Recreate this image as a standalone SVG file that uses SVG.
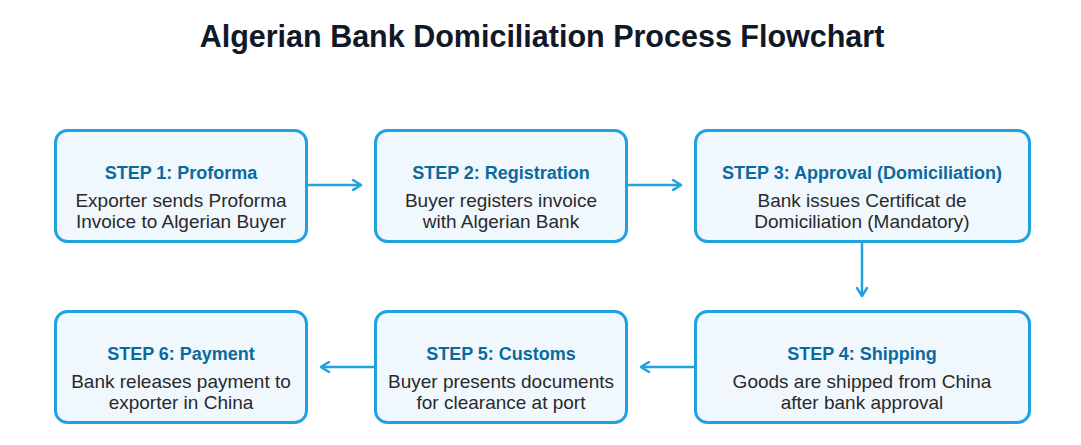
<svg xmlns="http://www.w3.org/2000/svg" width="1081" height="445" viewBox="0 0 1081 445">
<defs>
<style>
.box{fill:#f0f8fe;stroke:#1fa2e0;stroke-width:3}
.t{font-family:"Liberation Sans",Arial,sans-serif;font-weight:bold;font-size:18px;fill:#0a6aa0;text-anchor:middle}
.b{font-family:"Liberation Sans",Arial,sans-serif;font-size:19px;fill:#2a2a2a;text-anchor:middle}
.c{fill:none;stroke:#1fa2e0;stroke-width:2.5}
</style>
<marker id="ah" viewBox="0 0 12 12" refX="10" refY="6" markerWidth="12" markerHeight="12" markerUnits="userSpaceOnUse" orient="auto">
<path d="M2,1 L10,6 L2,11" fill="none" stroke="#1fa2e0" stroke-width="2.5" stroke-linecap="round" stroke-linejoin="round"/>
</marker>
</defs>
<rect width="1081" height="445" fill="#ffffff"/>
<text x="542" y="47" font-family="Liberation Sans,Arial,sans-serif" font-weight="bold" font-size="30.5" fill="#111827" text-anchor="middle">Algerian Bank Domiciliation Process Flowchart</text>
<g id="connectors">
<line class="c" x1="307" y1="185" x2="361" y2="185" marker-end="url(#ah)"/>
<line class="c" x1="627" y1="185" x2="681" y2="185" marker-end="url(#ah)"/>
<line class="c" x1="862" y1="242" x2="862" y2="296" marker-end="url(#ah)"/>
<line class="c" x1="694" y1="367" x2="641" y2="367" marker-end="url(#ah)"/>
<line class="c" x1="374" y1="367" x2="321" y2="367" marker-end="url(#ah)"/>
</g>
<g id="step1">
<rect class="box" x="55.5" y="130.5" width="251" height="111" rx="12"/>
<text class="t" x="181" y="179">STEP 1: Proforma</text>
<text class="b" x="181" y="207">Exporter sends Proforma</text>
<text class="b" x="181" y="228">Invoice to Algerian Buyer</text>
</g>
<g id="step2">
<rect class="box" x="375.5" y="130.5" width="251" height="111" rx="12"/>
<text class="t" x="501" y="179">STEP 2: Registration</text>
<text class="b" x="501" y="207">Buyer registers invoice</text>
<text class="b" x="501" y="228">with Algerian Bank</text>
</g>
<g id="step3">
<rect class="box" x="695.5" y="130.5" width="334" height="111" rx="12"/>
<text class="t" x="862" y="179">STEP 3: Approval (Domiciliation)</text>
<text class="b" x="862" y="207">Bank issues Certificat de</text>
<text class="b" x="862" y="228">Domiciliation (Mandatory)</text>
</g>
<g id="step4">
<rect class="box" x="695.5" y="311.5" width="334" height="111" rx="12"/>
<text class="t" x="862" y="360">STEP 4: Shipping</text>
<text class="b" x="862" y="388">Goods are shipped from China</text>
<text class="b" x="862" y="409">after bank approval</text>
</g>
<g id="step5">
<rect class="box" x="375.5" y="311.5" width="251" height="111" rx="12"/>
<text class="t" x="501" y="360">STEP 5: Customs</text>
<text class="b" x="501" y="388">Buyer presents documents</text>
<text class="b" x="501" y="409">for clearance at port</text>
</g>
<g id="step6">
<rect class="box" x="55.5" y="311.5" width="251" height="111" rx="12"/>
<text class="t" x="181" y="360">STEP 6: Payment</text>
<text class="b" x="181" y="388">Bank releases payment to</text>
<text class="b" x="181" y="409">exporter in China</text>
</g>
</svg>
